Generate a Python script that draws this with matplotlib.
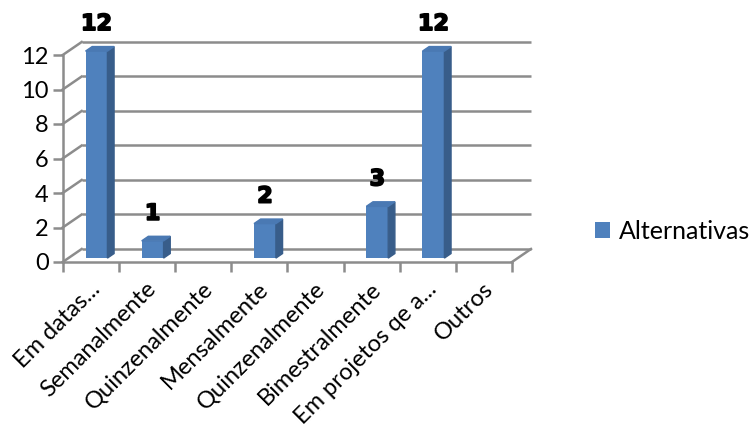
import matplotlib
matplotlib.use("Agg")
import matplotlib.pyplot as plt
import matplotlib.transforms as mtransforms
import matplotlib.patheffects as pe
from matplotlib.patches import Polygon
import numpy as np

categories = ["Em datas...", "Semanalmente", "Quinzenalmente", "Mensalmente",
              "Quinzenalmente", "Bimestralmente", "Em projetos qe a...", "Outros"]
values = [12, 1, 0, 2, 0, 3, 12, 0]
series_name = "Alternativas"
y_ticks = [0, 2, 4, 6, 8, 10, 12]

FRONT = "#4F81BD"
SIDE = "#385D8A"
TOP = "#4A79B3"
GRID = "#8C8C8C"

# depth of the floor / walls (in data units) for the pseudo-3D look
DX, DY = 0.338, 0.754
BAR_DEPTH0, BAR_DEPTH = 0.30, 0.35
BAR_W = 0.39

fig = plt.figure(figsize=(7.52, 4.26), dpi=100)
ax = fig.add_axes([62.7 / 752, (426 - 262) / 426, 449.3 / 752, 207 / 426])
ax.set_xlim(-0.5, len(categories) - 0.5)
ax.set_ylim(0, 12)
ax.patch.set_alpha(0)
for s in ("top", "right"):
    ax.spines[s].set_visible(False)
for s in ("left", "bottom"):
    ax.spines[s].set_color(GRID)
    ax.spines[s].set_linewidth(1.8)

x = np.arange(len(categories))
x_lo, x_hi = -0.5, len(categories) - 0.5

# back wall gridlines and side-wall diagonals
for v in y_ticks:
    ax.plot([x_lo + DX, x_hi + DX], [v + DY, v + DY], color=GRID, lw=1.8,
            clip_on=False, zorder=1, solid_capstyle="butt")
    ax.plot([x_lo, x_lo + DX], [v, v + DY], color=GRID, lw=1.8,
            clip_on=False, zorder=1)
ax.plot([x_hi, x_hi + DX], [0, DY], color=GRID, lw=1.8, clip_on=False, zorder=1)

# ticks
ax.set_yticks(y_ticks)
ax.tick_params(axis="y", direction="out", length=7, width=1.8, color=GRID,
               labelsize=17, pad=3)
ax.set_xticks(np.arange(x_lo, x_hi + 1, 1.0))
ax.set_xticklabels([])
ax.tick_params(axis="x", which="major", direction="out", length=7, width=1.8, color=GRID)
ax.set_xticks(x, categories, minor=True)
ax.tick_params(axis="x", which="minor", length=0, labelsize=17, pad=17)
shift = mtransforms.ScaledTranslation(6 / 100, 0, fig.dpi_scale_trans)
for lab in ax.get_xticklabels(minor=True):
    lab.set_rotation(45)
    lab.set_ha("right")
    lab.set_va("center")
    lab.set_rotation_mode("anchor")
    lab.set_transform(lab.get_transform() + shift)
for lab in ax.get_yticklabels() + ax.get_xticklabels(minor=True):
    lab.set_fontfamily("Lato")

# bars: front face through ax.bar, side and top faces from the same values
xf = x + BAR_DEPTH0 * DX
base = BAR_DEPTH0 * DY
mask = np.array(values) > 0
bars = ax.bar(xf[mask], np.array(values)[mask], width=BAR_W, bottom=base,
              color=FRONT, zorder=3, label=series_name, clip_on=False)
ddx, ddy = BAR_DEPTH * DX, BAR_DEPTH * DY
for xi, v in zip(xf[mask], np.array(values)[mask]):
    r = xi + BAR_W / 2
    l = xi - BAR_W / 2
    top = base + v
    ax.add_patch(Polygon([(r, base), (r + ddx, base + ddy), (r + ddx, top + ddy), (r, top)],
                         closed=True, color=SIDE, zorder=3, clip_on=False))
    ax.add_patch(Polygon([(l, top), (r, top), (r + ddx, top + ddy), (l + ddx, top + ddy)],
                         closed=True, color=TOP, zorder=3, clip_on=False))
    ax.annotate(str(v), (xi, top), xytext=(0, 21), textcoords="offset pixels",
                ha="center", va="baseline", fontsize=16, fontweight="heavy",
                family="DejaVu Sans", color="black", zorder=4,
                annotation_clip=False,
                path_effects=[pe.withStroke(linewidth=1.3, foreground="black")])

leg = fig.legend(handles=[bars], labels=[series_name], loc="center left",
                 bbox_to_anchor=(595 / 752, 1 - 231 / 426), frameon=False,
                 handlelength=0.6, handleheight=0.6, handletextpad=0.35,
                 borderpad=0, borderaxespad=0,
                 prop={"family": "Lato", "size": 18})

fig.savefig("out.png", dpi=100)
